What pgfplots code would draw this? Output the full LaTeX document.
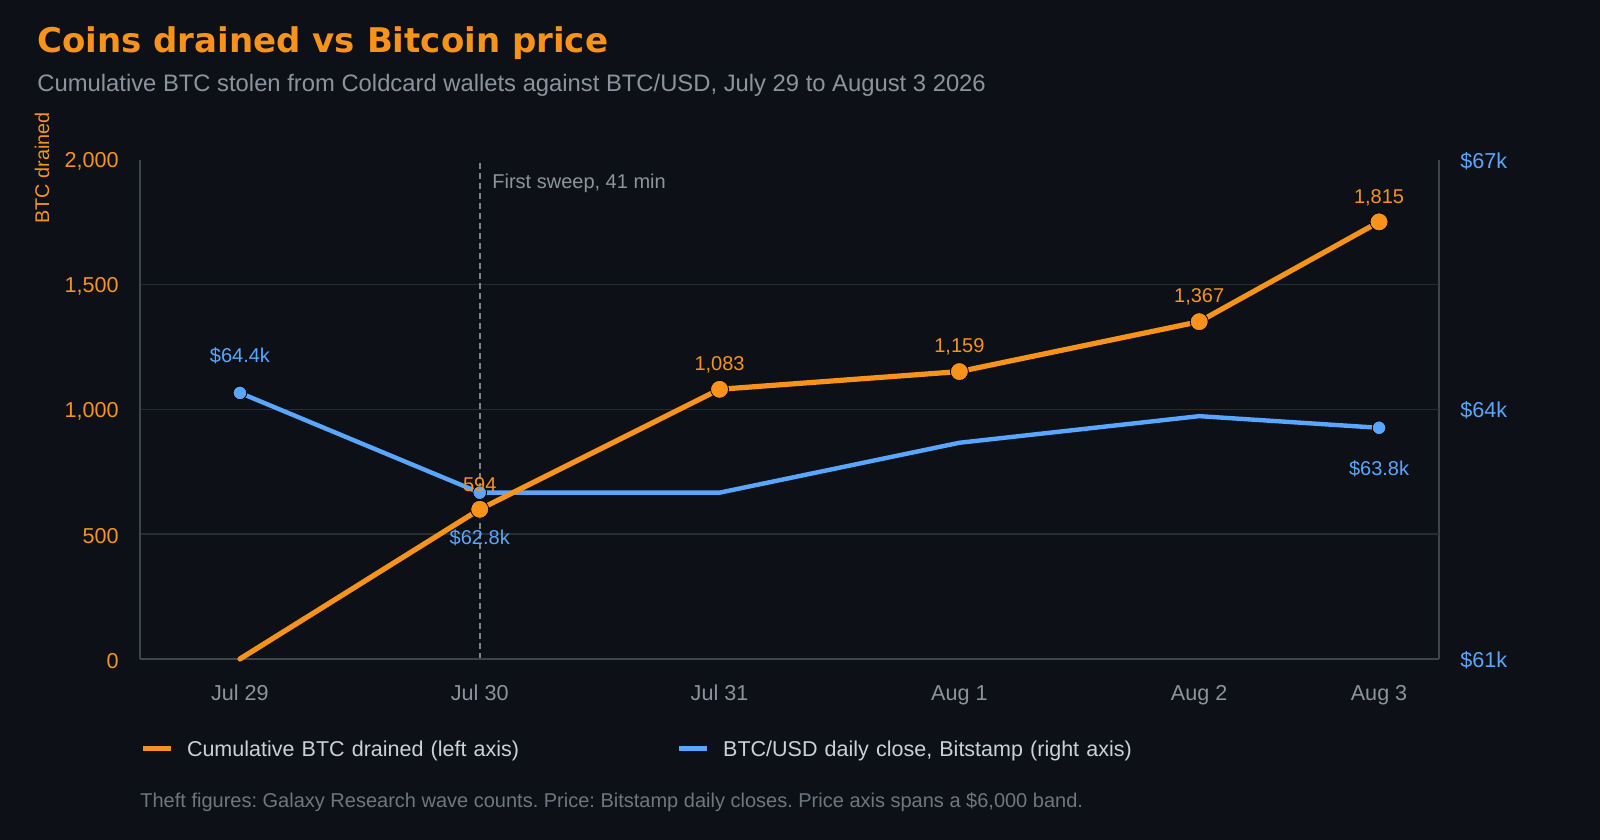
\documentclass[border=0pt]{standalone}
\usepackage{pgfplots}
\pgfplotsset{compat=1.18}
\usepackage{fontspec}
\setmainfont{Liberation Sans}
\newfontfamily\titlefont{DejaVu Sans}
\frenchspacing
\definecolor{bg}{HTML}{0D1117}
\definecolor{btcorange}{HTML}{F7931A}
\definecolor{btcblue}{HTML}{58A6FF}
\definecolor{subgray}{HTML}{8B949E}
\definecolor{legendgray}{HTML}{C9D1D9}
\definecolor{footgray}{HTML}{6E7681}
\definecolor{gridgray}{HTML}{262C34}
\definecolor{axisgray}{HTML}{3D444D}
\definecolor{dashgray}{HTML}{7D8590}
\begin{document}
\begin{tikzpicture}
\fill[bg] (0,0) rectangle (800pt,420pt);
\path[use as bounding box] (0,0) rectangle (800pt,420pt);
\node[anchor=base west, inner sep=0pt, text=btcorange, font=\titlefont\bfseries\fontsize{17}{20}\selectfont] at (18.5pt,393.5pt) {Coins drained vs Bitcoin price};
\node[anchor=base west, inner sep=0pt, text=subgray, font=\fontsize{11.9}{14}\selectfont] at (18.5pt,374pt) {Cumulative BTC stolen from Coldcard wallets against BTC/USD, July 29 to August 3 2026};
\node[anchor=east, rotate=90, inner sep=0pt, text=btcorange, font=\fontsize{9.9}{12}\selectfont] at (21pt,364pt) {BTC drained};
\node[anchor=base west, inner sep=0pt, text=subgray, font=\fontsize{10}{12}\selectfont] at (246pt,325.6pt) {First sweep, 41 min};
\node[anchor=base west, inner sep=0pt, text=footgray, font=\fontsize{10}{12}\selectfont] at (70pt,16pt) {Theft figures: Galaxy Research wave counts. Price: Bitstamp daily closes. Price axis spans a \$6,000 band.};

% price axis (back)
\begin{axis}[
  at={(70pt,90.5pt)}, anchor=south west,
  scale only axis, width=649.5pt, height=249.5pt,
  xmin=-0.4167, xmax=5,
  ymin=61, ymax=67,
  hide x axis,
  axis y line*=right,
  axis line style={draw=axisgray, line width=0.75pt, -},
  ytick={61,64,67},
  yticklabels={\$61k,\$64k,\$67k},
  yticklabel style={anchor=west, inner sep=0pt, xshift=10.5pt, yshift=-0.5pt, text=btcblue, font=\fontsize{10.8}{13}\selectfont},
  major tick length=0pt,
  tick style={draw=none},
  extra y ticks={62.5,64,65.5},
  extra y tick labels={},
  extra y tick style={grid=major, major grid style={draw=gridgray, line width=0.75pt}},
  clip=false,
]
\addplot[draw=dashgray, line width=0.75pt, dash pattern=on 3pt off 2pt, forget plot] coordinates {(1,61) (1,67)};
\addplot[draw=btcblue, line width=2.2pt, line join=round, line cap=round, mark=none, forget plot] coordinates {(0,64.2) (1,63.0) (2,63.0) (3,63.6) (4,63.92) (4.75,63.78)};
\addplot[only marks, mark=*, mark size=3.4pt, mark options={fill=btcblue, draw=none}, forget plot] coordinates {(0,64.2) (1,63.0) (4.75,63.78)};
\addplot[draw=none, mark=none, forget plot, nodes near coords, point meta=explicit symbolic,
  every node near coord/.append style={anchor=center, yshift=18.4pt, inner sep=0pt, text=btcblue, font=\fontsize{10}{12}\selectfont}]
  coordinates {(0,64.2)[\$64.4k]};
\addplot[draw=none, mark=none, forget plot, nodes near coords, point meta=explicit symbolic,
  every node near coord/.append style={anchor=center, yshift=-22.4pt, inner sep=0pt, text=btcblue, font=\fontsize{10}{12}\selectfont}]
  coordinates {(1,63.0)[\$62.8k]};
\addplot[draw=none, mark=none, forget plot, nodes near coords, point meta=explicit symbolic,
  every node near coord/.append style={anchor=center, yshift=-20.4pt, inner sep=0pt, text=btcblue, font=\fontsize{10}{12}\selectfont}]
  coordinates {(4.75,63.78)[\$63.8k]};
\end{axis}

% BTC drained axis (front)
\begin{axis}[
  at={(70pt,90.5pt)}, anchor=south west,
  scale only axis, width=649.5pt, height=249.5pt,
  xmin=-0.4167, xmax=5,
  ymin=0, ymax=2000,
  axis x line*=bottom, axis y line*=left,
  axis line style={draw=axisgray, line width=0.75pt, -},
  xtick={0,1,2,3,4,4.75},
  xticklabels={Jul 29,Jul 30,Jul 31,Aug 1,Aug 2,Aug 3},
  xticklabel style={anchor=base, inner sep=0pt, yshift=-21pt, text=subgray, font=\fontsize{10.8}{13}\selectfont},
  ytick={0,500,1000,1500,2000},
  yticklabels={0,500,{1,000},{1,500},{2,000}},
  yticklabel style={anchor=east, inner sep=0pt, xshift=-10.5pt, yshift=-0.8pt, text=btcorange, font=\fontsize{10.8}{13}\selectfont},
  major tick length=0pt,
  tick style={draw=none},
  clip=false,
  legend columns=2,
  legend cell align=left,
  legend image code/.code={\draw[#1, line width=2.5pt, line cap=butt] (0pt,0.7pt) -- (14pt,0.7pt);},
  legend style={at={(0,0)}, anchor=west, yshift=-45.4pt, draw=none, fill=none, inner sep=0pt, outer sep=0pt,
    nodes={inner sep=0pt, text=legendgray, font=\fontsize{10.75}{13}\selectfont, text width=240pt, align=left},
    /tikz/every odd column/.append style={column sep=7pt},
    /tikz/every even column/.append style={column sep=4.6pt}},
]
\addplot[draw=btcorange, line width=2.6pt, line join=round, line cap=round, mark=none] coordinates {(0,0) (1,600) (2,1081) (3,1152) (4,1352) (4.75,1752)};
\addlegendentry{Cumulative BTC drained (left axis)}
\addplot[forget plot, only marks, mark=*, mark size=4.5pt, mark options={fill=btcorange, draw=none}, nodes near coords, point meta=explicit symbolic,
  every node near coord/.append style={anchor=center, yshift=12.2pt, inner sep=0pt, text=btcorange, font=\fontsize{10}{12}\selectfont}]
  coordinates {(1,600)[594] (2,1081)[{1,083}] (3,1152)[{1,159}] (4,1352)[{1,367}] (4.75,1752)[{1,815}]};
\addlegendimage{draw=btcblue, line width=2.2pt}
\addlegendentry{BTC/USD daily close, Bitstamp (right axis)}
\end{axis}
\end{tikzpicture}
\end{document}
